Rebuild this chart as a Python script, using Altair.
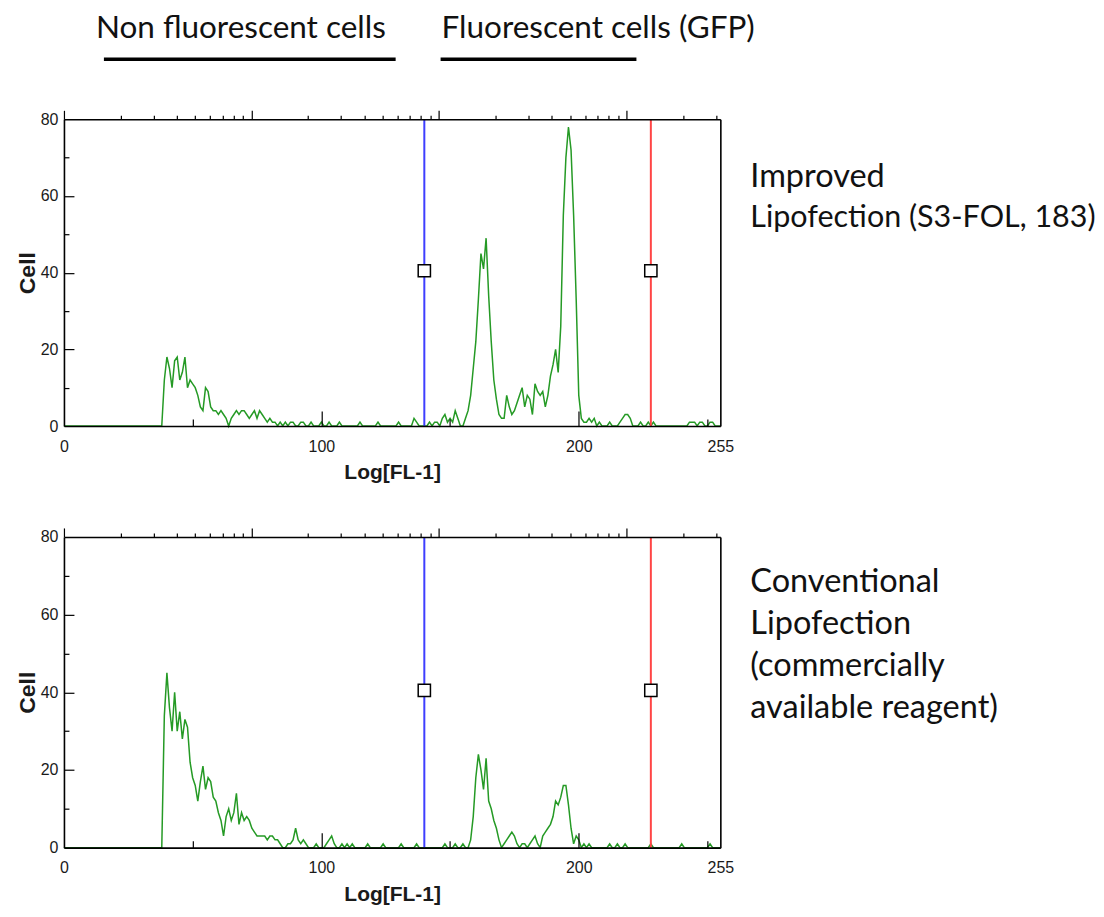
import altair as alt
import pandas as pd

# ---------------- data ----------------
CHANNELS = list(range(256))

IMPROVED_COUNTS = (
    [0] * 16
    + [0] * 16
    + [0, 0, 0, 0, 0, 0, 0, 12, 18, 15, 10, 17, 18, 12, 14, 18]
    + [10, 12, 11, 10, 8, 5, 4, 10, 9, 5, 4, 4, 3, 4, 3, 2]
    + [0, 2, 3, 4, 3, 4, 4, 3, 2, 3, 4, 2, 4, 3, 2, 1]
    + [2, 1, 1, 0, 1, 0, 1, 0, 1, 1, 0, 0, 1, 1, 0, 0]
    + [1, 0, 0, 0, 1, 0, 0, 1, 0, 0, 0, 1, 0, 0, 0, 0]
    + [0, 0, 0, 1, 0, 0, 0, 0, 0, 0, 1, 0, 0, 0, 0, 0]
    + [0, 0, 1, 0, 0, 0, 0, 0, 2, 1, 0, 0, 0, 0, 1, 0]
    + [1, 1, 0, 2, 3, 1, 2, 1, 4, 2, 0, 0, 2, 4, 8, 15]
    + [22, 33, 45, 41, 49, 34, 22, 12, 7, 3, 2, 2, 8, 5, 3, 4]
    + [6, 8, 10, 5, 8, 7, 3, 11, 9, 8, 9, 5, 8, 13, 16, 20]
    + [14, 26, 55, 70, 78, 72, 55, 33, 8, 2, 1, 1, 2, 1, 2, 0]
    + [1, 0, 0, 0, 1, 0, 0, 0, 1, 2, 3, 3, 2, 0, 0, 0]
    + [1, 0, 0, 1, 0, 1, 0, 0, 0, 0, 0, 0, 0, 0, 0, 0]
    + [0, 0, 0, 1, 1, 1, 0, 1, 1, 0, 0, 1, 1, 0, 0, 0]
)

CONVENTIONAL_COUNTS = (
    [0] * 16
    + [0] * 16
    + [0, 0, 0, 0, 0, 0, 0, 34, 45, 36, 30, 40, 30, 35, 28, 33]
    + [31, 22, 18, 16, 12, 17, 21, 15, 18, 17, 13, 12, 9, 7, 3, 8]
    + [10, 7, 9, 14, 6, 9, 7, 8, 7, 5, 4, 3, 3, 3, 3, 2]
    + [3, 3, 2, 2, 1, 0, 0, 1, 1, 2, 5, 2, 1, 2, 1, 0]
    + [0, 0, 1, 0, 0, 0, 1, 2, 3, 1, 0, 0, 1, 0, 1, 0]
    + [1, 0, 0, 0, 0, 0, 1, 0, 0, 0, 0, 0, 1, 0, 0, 0]
    + [0, 0, 0, 1, 0, 0, 0, 0, 0, 1, 0, 0, 0, 0, 0, 0]
    + [0, 0, 0, 0, 1, 0, 0, 0, 1, 0, 0, 1, 0, 0, 2, 8]
    + [18, 24, 20, 15, 23, 12, 10, 7, 5, 2, 0, 1, 2, 3, 4, 3]
    + [1, 0, 1, 1, 0, 1, 2, 3, 1, 0, 3, 4, 5, 6, 8, 12]
    + [11, 13, 16, 16, 11, 5, 1, 3, 2, 0, 1, 0, 1, 0, 0, 0]
    + [0, 0, 0, 0, 1, 0, 0, 1, 0, 0, 1, 0, 0, 0, 0, 0]
    + [0, 0, 0, 0, 1, 0, 0, 0, 0, 0, 0, 0, 0, 0, 0, 0]
    + [1, 0, 0, 0, 0, 0, 0, 0, 0, 0, 0, 1, 0, 0, 0, 0]
)

CELL_RANGE = [0, 80]
CHANNEL_RANGE = [0, 255]
GATE_X = [140, 228]
GATE_COLORS = ["#3f3fff", "#ff4545"]
GATE_MARKER_Y = 40.5

X_LABEL_VALUES = [0, 100, 200, 255]
X_INNER_MAJOR = [100, 200]
X_INNER_MINOR = [50, 150, 250]
Y_LABEL_VALUES = [0, 20, 40, 60, 80]
Y_INNER_MAJOR = [20, 40, 60]
Y_INNER_MINOR = [10, 30, 50, 70]
LOG_MAJOR = [1, 10, 100, 1000]
LOG_MINOR = [2, 3, 4, 5, 6, 7, 8, 9,
             20, 30, 40, 50, 60, 70, 80, 90,
             200, 300, 400, 500, 600, 700, 800, 900,
             2000, 3000]
LOG_MAX = 3162

HEADERS = ["Non fluorescent cells", "Fluorescent cells (GFP)"]
IMPROVED_LABEL = ["Improved", "Lipofection (S3-FOL, 183)"]
CONVENTIONAL_LABEL = ["Conventional", "Lipofection", "(commercially", "available reagent)"]
X_TITLE = "Log[FL-1]"
Y_TITLE = "Cell"

# ---------------- layout / style ----------------
W = 657
TOTAL_H = 729                # from top of upper panel to bottom of lower panel
TOP_PANEL = (0, 307)         # pixel band of the upper panel inside the plot area
BOTTOM_PANEL = (418, 729)    # pixel band of the lower panel
GREEN = "#259a25"
AXIS_FONT = "Liberation Sans, Arial, sans-serif"
TEXT_FONT = "Lato, Open Sans, sans-serif"
TEXT_COLOR = "#111"
LABEL_COLOR = "#1a1a1a"


def panel_layers(counts, band):
    y_top, y_bot = band
    hist = pd.DataFrame({"channel": CHANNELS, "cells": counts})
    gates = pd.DataFrame({"gate": GATE_X, "color": GATE_COLORS,
                          "marker": [GATE_MARKER_Y] * len(GATE_X),
                          "lo": [CELL_RANGE[0]] * len(GATE_X),
                          "hi": [CELL_RANGE[1]] * len(GATE_X)})
    logticks = pd.DataFrame({"v": LOG_MAJOR + LOG_MINOR})

    xs = alt.Scale(domain=CHANNEL_RANGE, nice=False, zero=False)
    ys = alt.Scale(domain=CELL_RANGE, nice=False, range=[y_bot, y_top])
    ls = alt.Scale(type="log", domain=[1, LOG_MAX], nice=False)
    tick_axis = dict(labels=False, domain=False, grid=False, title=None,
                     tickColor="black", tickWidth=1.2, zindex=1)
    frame = dict(domain=True, domainColor="black", domainWidth=1.6, grid=False,
                 title=None, zindex=1)

    line = alt.Chart(hist).mark_line(color=GREEN, strokeWidth=1.5).encode(
        x=alt.X("channel:Q", scale=xs, axis=alt.Axis(
            orient="bottom", offset=y_bot - TOTAL_H, values=X_LABEL_VALUES,
            ticks=False, labelFont=AXIS_FONT, labelFontSize=16,
            labelColor=LABEL_COLOR, labelPadding=12, labelFlush=False,
            labelOverlap=False, titleFont=AXIS_FONT, titleFontSize=21,
            titleFontWeight="bold", titleColor=LABEL_COLOR, titleY=47,
            titleBaseline="middle",
            **{**frame, "title": X_TITLE})),
        y=alt.Y("cells:Q", scale=ys, axis=alt.Axis(
            orient="left", values=Y_LABEL_VALUES, ticks=False,
            labelFont=AXIS_FONT, labelFontSize=16, labelColor=LABEL_COLOR,
            labelPadding=6, labelOverlap=False, titleFont=AXIS_FONT,
            titleFontSize=23, titleFontWeight="bold", titleColor=LABEL_COLOR,
            titleX=-36, titleAngle=270, titleAlign="center",
            titleBaseline="middle",
            **{**frame, "title": Y_TITLE})),
    )

    rules = alt.Chart(gates).mark_rule(strokeWidth=2).encode(
        x=alt.X("gate:Q", scale=xs, axis=alt.Axis(
            orient="top", offset=-y_bot, values=X_INNER_MAJOR, tickSize=15, **tick_axis)),
        y=alt.Y("lo:Q", scale=ys, axis=None),
        y2="hi:Q",
        color=alt.Color("color:N", scale=None),
    )

    x_minor = alt.Chart(hist).mark_point(opacity=0).encode(
        x=alt.X("channel:Q", scale=xs, axis=alt.Axis(
            orient="top", offset=-y_bot, values=X_INNER_MINOR, tickSize=7, **tick_axis)),
    )

    markers = alt.Chart(gates).mark_square(
        size=150, filled=True, color="white", stroke="black", strokeWidth=1.5, opacity=1
    ).encode(
        x=alt.X("gate:Q", scale=xs, axis=None),
        y=alt.Y("marker:Q", scale=ys, axis=alt.Axis(
            orient="right", offset=-W, values=Y_INNER_MAJOR, tickSize=10, **tick_axis)),
    )

    y_minor = alt.Chart(hist).mark_point(opacity=0).encode(
        y=alt.Y("cells:Q", scale=ys, axis=alt.Axis(
            orient="right", offset=-W, values=Y_INNER_MINOR, tickSize=5, **tick_axis)),
    )

    right_frame = alt.Chart(hist).mark_point(opacity=0).encode(
        y=alt.Y("cells:Q", scale=ys, axis=alt.Axis(
            orient="right", ticks=False, labels=False, **frame)),
    )

    log_minor = alt.Chart(logticks).mark_point(opacity=0).encode(
        x=alt.X("v:Q", scale=ls, axis=alt.Axis(
            orient="top", offset=-y_top, values=LOG_MINOR, tickSize=4,
            tickColor="black", tickWidth=1.2, labels=False, **frame)),
    )
    log_major = alt.Chart(logticks).mark_point(opacity=0).encode(
        x=alt.X("v:Q", scale=ls, axis=alt.Axis(
            orient="top", offset=-y_top, values=LOG_MAJOR, tickSize=9, **tick_axis)),
    )

    return [line, rules, markers, x_minor, y_minor, right_frame, log_minor, log_major]


def text_block(lines, x, y, size, line_height=41):
    return alt.Chart().mark_text(
        align="left", baseline="alphabetic", font=TEXT_FONT, fontSize=size,
        color=TEXT_COLOR, lineHeight=line_height,
    ).encode(x=alt.value(x), y=alt.value(y), text=alt.value(lines))


def underline(x1, x2, y):
    return alt.Chart().mark_rule(color="black", strokeWidth=3.5).encode(
        x=alt.value(x1), x2=alt.value(x2), y=alt.value(y))


annotations = [
    text_block(HEADERS[0], 32, -81, 31.5),
    text_block(HEADERS[1], 378, -81, 31.5),
    underline(40, 332, -60),
    underline(377, 573, -60),
    text_block(IMPROVED_LABEL[0], 687, 68, 32.5),
    text_block(IMPROVED_LABEL[1], 687, 108, 30.5),
    text_block(CONVENTIONAL_LABEL, 687, 473, 32.5, 42),
]

layers = (panel_layers(IMPROVED_COUNTS, TOP_PANEL)
          + panel_layers(CONVENTIONAL_COUNTS, BOTTOM_PANEL)
          + annotations)

chart = alt.layer(*layers).resolve_scale(
    x="independent", y="independent"
).properties(
    width=W, height=TOTAL_H,
    padding={"left": 9, "top": 5, "right": 0, "bottom": 0},
).configure_view(stroke=None)

chart.save("out.html", embed_options={"renderer": "svg", "actions": False})
